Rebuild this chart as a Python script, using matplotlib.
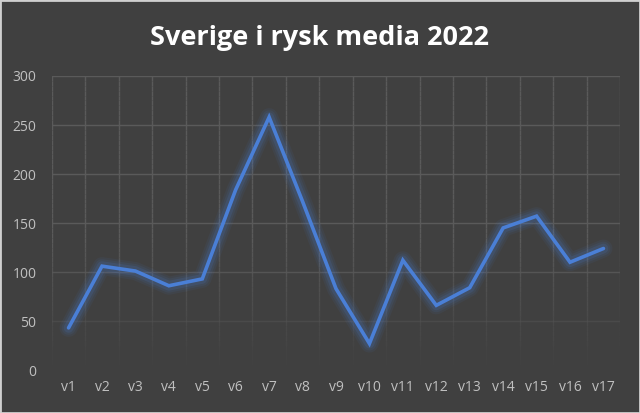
import numpy as np
import matplotlib.pyplot as plt
from matplotlib.collections import LineCollection
from matplotlib.patches import Rectangle

weeks = ['v1', 'v2', 'v3', 'v4', 'v5', 'v6', 'v7', 'v8', 'v9', 'v10',
         'v11', 'v12', 'v13', 'v14', 'v15', 'v16', 'v17']
mentions = [43, 106, 101, 86, 93, 184, 258, 172, 83, 27,
            112, 66, 84, 145, 157, 110, 124]

bg = '#404040'
grid_col = '#5a5a5a'
line_col = '#4a7fd6'

plt.rcParams['font.family'] = ['Open Sans', 'DejaVu Sans']

fig = plt.figure(figsize=(6.4, 4.13), dpi=100, facecolor=bg)
ax = fig.add_axes([0.081, 0.104, 0.888, 0.712])
ax.set_facecolor(bg)

x = np.arange(1, len(weeks) + 1)
ax.set_xlim(0.5, len(weeks) + 0.5)
ax.set_ylim(0, 300)

# horizontal grid, fading out near the bottom
for y in range(50, 301, 50):
    a = min(1.0, y / 120)
    ax.axhline(y, color=grid_col, lw=1, alpha=a, zorder=1)

# vertical grid at category boundaries, fading toward the bottom
ys = np.linspace(0, 300, 61)
for xb in np.arange(0.5, len(weeks) + 1, 1.0):
    segs = [[(xb, ys[i]), (xb, ys[i + 1])] for i in range(len(ys) - 1)]
    alphas = np.clip(ys[:-1] / 130, 0, 1)
    cols = [(0.353, 0.353, 0.353, a) for a in alphas]
    ax.add_collection(LineCollection(segs, colors=cols, lw=1, zorder=1))

# glow
for w, a in [(13, 0.07), (10, 0.09), (7, 0.14)]:
    ax.plot(x, mentions, color=line_col, lw=w, alpha=a,
            solid_joinstyle='round', solid_capstyle='round', zorder=2)
ax.plot(x, mentions, color=line_col, lw=2.6,
        solid_joinstyle='miter', solid_capstyle='round', zorder=3)

ax.set_xticks(x)
ax.set_xticklabels(weeks)
ax.set_yticks(range(0, 301, 50))
ax.tick_params(colors='#c0c0c0', labelsize=10, length=0, pad=7)
ax.tick_params(axis='y', pad=11)
for s in ax.spines.values():
    s.set_visible(False)

fig.text(0.5, 0.908, 'Sverige i rysk media 2022', ha='center', va='center',
         color='white', fontsize=19.5, fontweight='bold')

fig.patches.append(Rectangle((0, 0), 1, 1, transform=fig.transFigure,
                             fill=False, edgecolor='#d0d0d0', lw=2))

fig.savefig('out.png', dpi=100, facecolor=bg)
